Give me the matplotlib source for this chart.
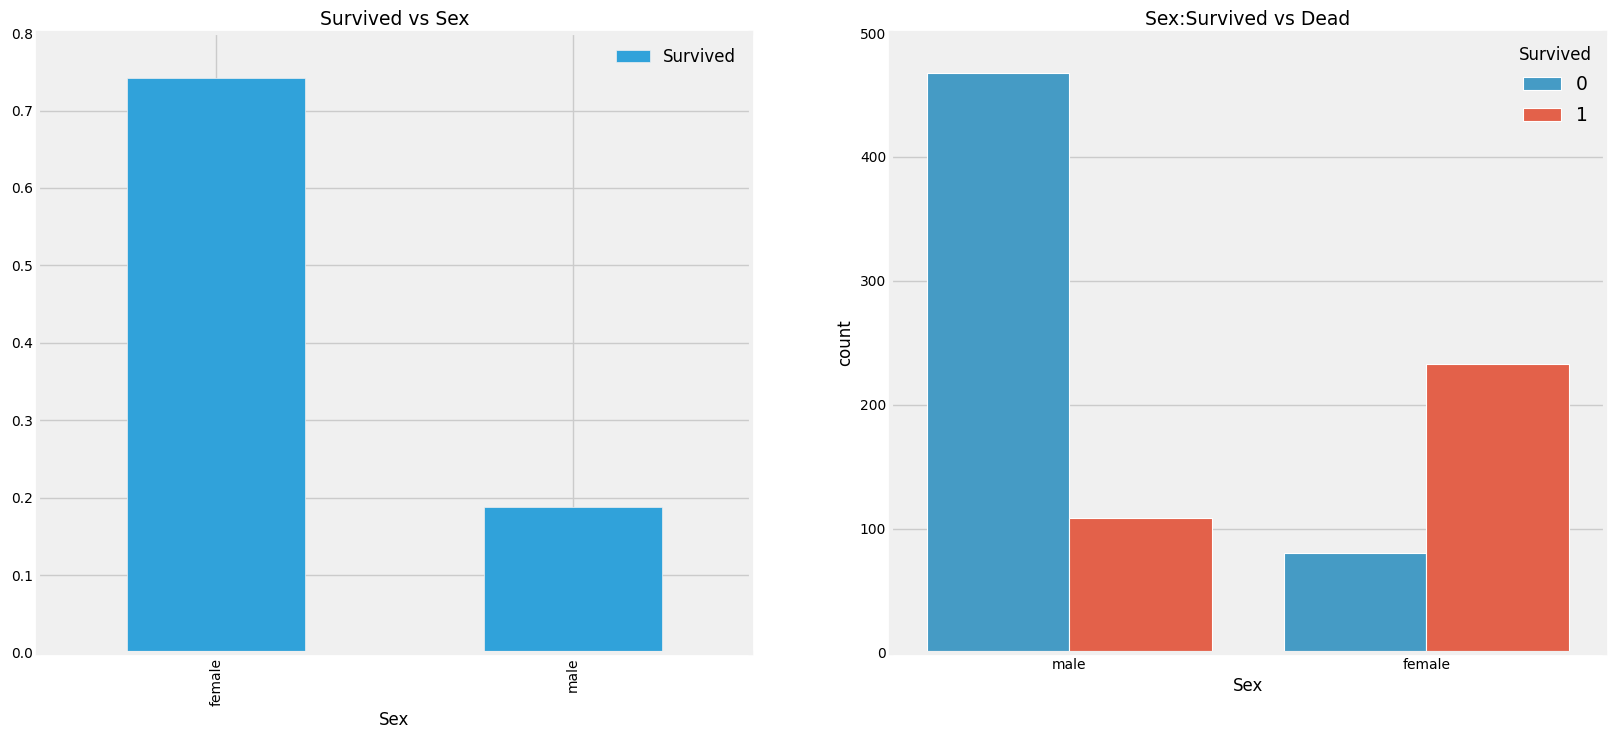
import numpy as np
import matplotlib
matplotlib.use("Agg")
import matplotlib.pyplot as plt

# survival rate by sex (left)
rate_sex = ["female", "male"]
rate_vals = [0.742, 0.189]

# counts by sex and survived (right)
count_sex = ["male", "female"]
dead = [468, 81]
alive = [109, 233]
hue_labels = ["0", "1"]

plt.style.use("fivethirtyeight")
plt.rcParams.update({
    "figure.facecolor": "white",
    "savefig.facecolor": "white",
    "font.size": 10,
    "xtick.labelsize": 10,
    "ytick.labelsize": 10,
    "axes.labelsize": 12,
    "axes.titlesize": 13.5,
})

fig = plt.figure(figsize=(16.13, 7.40), dpi=100)
ax1 = fig.add_axes([0.0236, 0.1176, 0.442, 0.8378])
ax2 = fig.add_axes([0.5524, 0.1176, 0.4426, 0.8378])

# left: mean survival by sex
x = np.arange(len(rate_sex))
ax1.bar(x, rate_vals, width=0.5, color="#30a2da", edgecolor="#f0f0f0",
        linewidth=0.5, label="Survived", zorder=2)
ax1.set_xlim(-0.5, len(rate_sex) - 0.5)
ax1.set_ylim(0, 0.8)
ax1.set_xticks(x)
ax1.set_xticklabels(rate_sex, rotation=90)
ax1.set_yticks(np.arange(0, 0.81, 0.1))
ax1.set_xlabel("Sex")
ax1.set_title("Survived vs Sex")
ax1.legend(loc="upper right", frameon=False, fontsize=12)

# right: countplot with hue
x2 = np.arange(len(count_sex))
w = 0.4
ax2.bar(x2 - w / 2, dead, width=w, color="#459bc5", edgecolor="white",
        linewidth=0.8, label=hue_labels[0], zorder=2)
ax2.bar(x2 + w / 2, alive, width=w, color="#e3614a", edgecolor="white",
        linewidth=0.8, label=hue_labels[1], zorder=2)
ax2.set_xlim(-0.5, len(count_sex) - 0.5)
ax2.set_ylim(0, 500)
ax2.set_xticks(x2)
ax2.set_xticklabels(count_sex)
ax2.grid(False, axis="x")
ax2.set_xlabel("Sex")
ax2.set_ylabel("count")
ax2.set_title("Sex:Survived vs Dead")
leg = ax2.legend(title="Survived", loc="upper right", frameon=False, fontsize=13.5,
                 borderaxespad=0.3, labelspacing=0.6)
leg.get_title().set_fontsize(12)

fig.savefig("out.png", dpi=100)
